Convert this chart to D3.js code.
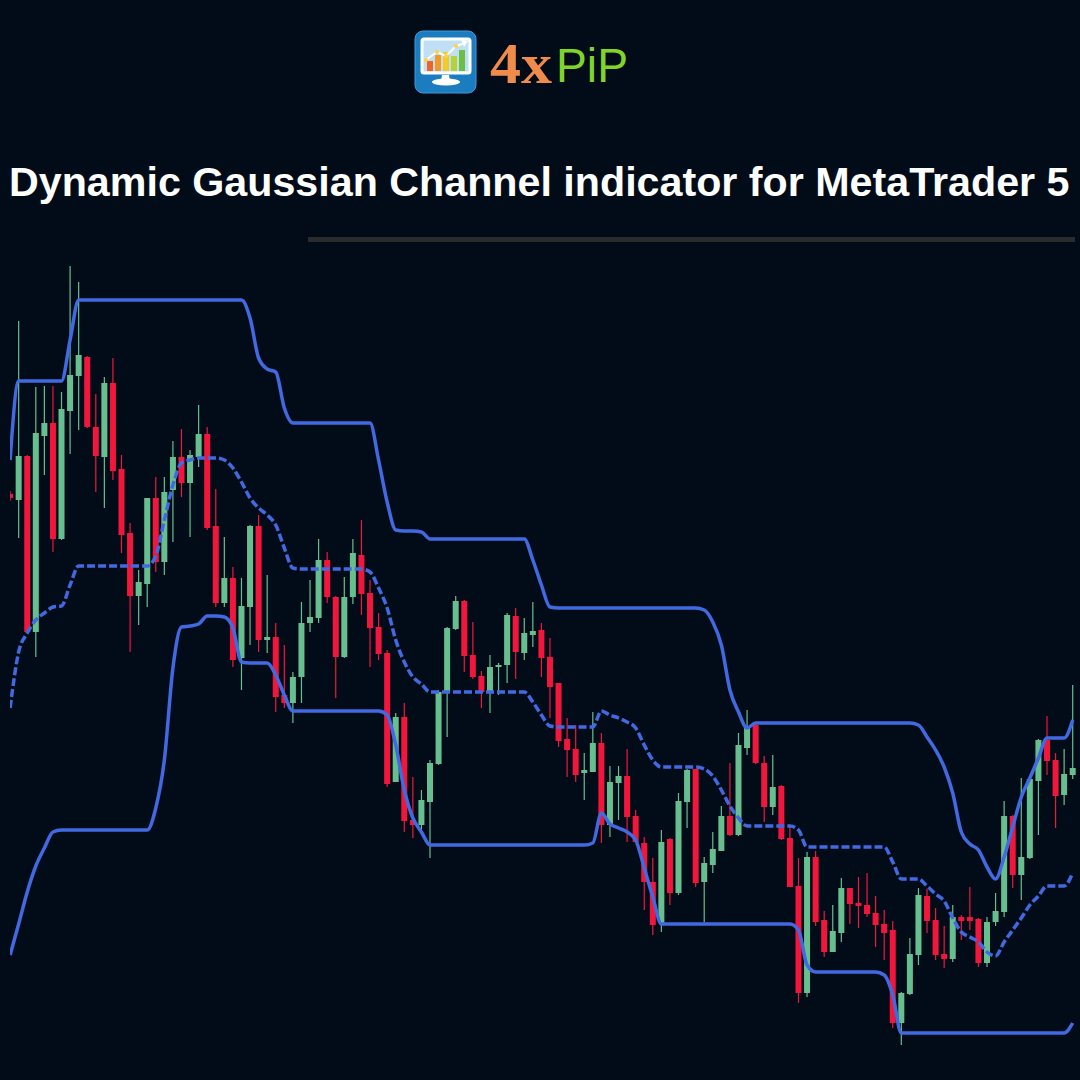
<!DOCTYPE html>
<html>
<head>
<meta charset="utf-8">
<script src="https://cdn.jsdelivr.net/npm/d3@7/dist/d3.min.js"></script>
<style>
  html, body { margin: 0; padding: 0; background: #020c19; }
  svg { display: block; }
</style>
</head>
<body>
<svg id="chart"></svg>
<script>
// candles, oldest first (the first one is cut by the left edge)
var openVals = [586,580,624,448,644,657,541,669,704,723,
  653,623,697,611,547,484,496,582,518,590,
  623,597,623,646,554,477,502,422,473,554,
  440,443,385,377,403,457,462,520,483,423,
  483,525,487,453,427,298,363,260,255,278,
  316,388,451,479,425,404,388,413,415,464,
  427,445,450,423,397,341,331,307,308,337,
  255,297,304,264,237,198,157,241,187,278,
  311,198,215,229,264,245,332,355,317,273,
  294,242,194,87,223,160,128,147,192,177,
  175,167,156,150,57,86,125,184,160,126,
  121,163,163,161,117,158,168,264,205,222,
  299,340,320,285,305];
var highVals = [589,759,625,693,694,694,688,814,798,724,
  686,703,722,625,557,510,582,603,603,639,
  651,630,675,653,591,543,513,502,555,565,
  505,457,435,408,478,500,541,528,484,503,
  541,560,500,467,430,367,377,303,290,320,
  390,453,484,480,458,409,425,417,467,472,
  462,478,457,442,397,362,355,327,368,347,
  314,314,331,270,243,222,250,242,287,311,
  311,223,248,274,317,347,370,356,324,325,
  295,253,222,228,229,169,175,202,192,203,
  207,184,170,159,88,142,192,191,172,154,
  175,165,193,162,163,187,279,265,302,303,
  341,364,327,331,395];
var lowVals = [579,542,447,423,605,528,540,626,650,652,
  588,572,600,527,428,455,473,508,505,538,
  583,543,613,550,473,473,413,390,435,428,
  427,368,372,357,377,448,457,477,382,422,
  476,465,413,420,293,298,248,242,248,222,
  315,343,450,408,401,372,367,385,397,401,
  420,433,403,362,333,303,298,280,308,237,
  243,260,238,237,170,145,148,175,185,252,
  193,158,207,229,244,244,325,316,258,265,
  240,193,77,83,154,123,128,138,156,152,
  163,133,120,52,35,85,115,147,120,112,
  118,140,150,113,113,154,163,192,180,221,
  245,305,252,275,301];
var closeVals = [582,624,448,647,657,541,671,705,725,653,
  624,697,609,545,484,498,582,518,588,623,
  597,625,646,552,477,502,420,474,554,440,
  443,383,377,403,457,463,520,483,423,483,
  527,486,452,426,296,363,259,255,280,317,
  388,452,479,424,403,388,413,415,465,428,
  447,449,422,393,339,330,305,310,337,255,
  298,304,263,238,198,155,238,187,279,310,
  197,217,231,264,245,335,352,317,273,293,
  241,193,87,223,158,128,149,192,176,174,
  166,155,147,57,87,126,185,159,125,121,
  163,159,159,117,158,169,264,205,223,301,
  340,319,284,306,312];

// gaussian channel: upper, middle (dashed), lower
var upperBand = [620,699,699,699,699,699,699,740,780,780,
  780,780,780,780,780,780,780,780,780,780,
  780,780,780,780,780,780,780,780,762,722,
  711,708,672,657,657,657,657,657,657,657,
  657,657,657,620,578,550,549,549,548,541,
  541,541,541,541,541,541,541,541,541,541,
  541,520,495,473,472,472,472,472,472,472,
  472,472,472,472,472,472,472,472,472,472,
  472,470,458,435,390,368,352,357,357,357,
  357,357,357,357,357,357,357,357,357,357,
  357,357,357,357,357,357,355,343,330,313,
  287,248,236,230,213,201,223,253,283,302,
  322,342,342,342,360];
var midBand = [372,428,447,460,467,473,474,495,514,514,
  514,514,514,514,514,514,514,524,560,595,
  617,620,622,622,622,620,612,598,582,572,
  565,555,532,512,511,511,511,511,511,511,
  511,511,508,492,472,440,418,403,396,388,
  388,388,388,388,388,388,388,388,388,388,
  388,378,365,354,353,353,353,353,353,369,
  365,362,358,352,335,320,313,313,313,313,
  313,311,304,290,274,262,254,254,254,254,
  254,254,250,233,233,233,233,233,233,233,
  233,233,233,218,201,201,201,194,186,179,
  162,148,143,138,128,124,138,150,162,175,
  184,194,194,194,207];
var lowerBand = [125,156,188,214,232,248,250,250,250,250,
  250,250,250,250,250,250,250,272,320,412,
  453,454,456,464,464,463,452,418,417,417,
  417,405,385,369,369,369,369,369,369,369,
  369,369,369,369,365,335,290,262,248,235,
  235,235,235,235,235,235,235,235,235,235,
  235,235,235,235,235,235,235,235,237,267,
  256,252,248,240,212,183,156,156,156,156,
  156,156,156,156,156,156,156,156,156,156,
  156,156,150,115,108,108,108,108,108,108,
  108,108,105,85,47,47,47,47,47,47,
  47,47,47,47,47,47,47,47,47,47,
  47,47,47,47,57];

var titleText = 'Dynamic Gaussian Channel indicator for MetaTrader 5';

var WIDTH = 1080, HEIGHT = 1080;
var upColor = '#67bf90', downColor = '#f2163c', bandColor = '#4169e1';

var svg = d3.select('#chart')
  .attr('width', WIDTH)
  .attr('height', HEIGHT);

svg.append('rect')
  .attr('width', WIDTH).attr('height', HEIGHT)
  .attr('fill', '#020c19');

// ---- logo ----
var logo = svg.append('g').attr('transform', 'translate(415,31)');
logo.append('rect')
  .attr('width', 61).attr('height', 62).attr('rx', 8)
  .attr('fill', '#1c7cc0').attr('stroke', '#3d9ad8').attr('stroke-width', 1);
logo.append('rect')
  .attr('x', 7).attr('y', 8).attr('width', 48).attr('height', 34).attr('rx', 2)
  .attr('fill', '#bfe0f4').attr('stroke', '#ffffff').attr('stroke-width', 3);
var barCols = ['#f0642a', '#f39a26', '#f5c928', '#b5d334', '#6cbf45'];
var barTops = [30, 24, 21, 25, 19];
barCols.forEach(function(c, i) {
  logo.append('rect')
    .attr('x', 12 + i * 8).attr('y', barTops[i])
    .attr('width', 6).attr('height', 40 - barTops[i])
    .attr('fill', c);
});
logo.append('path')
  .attr('d', 'M11,29 L22,21 L31,25 L41,15 L50,12')
  .attr('fill', 'none').attr('stroke', '#ffffff').attr('stroke-width', 2);
logo.append('path')
  .attr('d', 'M46,9 L53,10 L49,16 Z').attr('fill', '#ffffff');
[[11, 29], [22, 21], [31, 25], [41, 15]].forEach(function(p) {
  logo.append('circle').attr('cx', p[0]).attr('cy', p[1]).attr('r', 2)
    .attr('fill', '#ffd23c');
});
logo.append('path')
  .attr('d', 'M27,44 L34,44 L35,50 L26,50 Z').attr('fill', '#ffffff');
logo.append('ellipse')
  .attr('cx', 31).attr('cy', 51).attr('rx', 14).attr('ry', 3.5)
  .attr('fill', '#ffffff');

svg.append('text')
  .attr('x', 490).attr('y', 83)
  .attr('font-family', '"Liberation Serif", serif')
  .attr('font-weight', 'bold').attr('font-size', 56)
  .attr('textLength', 62).attr('lengthAdjust', 'spacingAndGlyphs')
  .attr('fill', '#ef8b4b')
  .text('4x');
svg.append('text')
  .attr('x', 556).attr('y', 82)
  .attr('font-family', '"Liberation Sans", Arial, sans-serif')
  .attr('font-size', 49)
  .attr('textLength', 72).attr('lengthAdjust', 'spacingAndGlyphs')
  .attr('fill', '#80d42a')
  .text('PiP');

// ---- title ----
var title = svg.append('text')
  .attr('x', 9).attr('y', 196)
  .attr('font-family', '"Liberation Sans", Arial, sans-serif')
  .attr('font-weight', 'bold').attr('font-size', 38)
  .attr('fill', '#ffffff')
  .text(titleText);
var tl = title.node().getComputedTextLength();
title.attr('font-size', 38 * 1061 / tl);

svg.append('rect')
  .attr('x', 308).attr('y', 237).attr('width', 767).attr('height', 5)
  .attr('fill', '#2b2b2d');

// ---- chart ----
var idx = d3.range(-1, openVals.length - 1);
var candles = idx.map(function(k, i) {
  return { k: k, o: openVals[i], h: highVals[i], l: lowVals[i], c: closeVals[i] };
});

var x = d3.scaleLinear().domain([-1, 123]).range([10.1, 1072.7]);
var y = d3.scaleLinear().domain([20, 820]).range([1060, 260]);

svg.append('clipPath').attr('id', 'plotclip')
  .append('rect').attr('x', 10).attr('y', 250).attr('width', 1066).attr('height', 810);

var plot = svg.append('g').attr('clip-path', 'url(#plotclip)');

var cg = plot.selectAll('.candle').data(candles).enter().append('g')
  .attr('class', 'candle');

cg.append('line')
  .attr('x1', function(d) { return x(d.k); })
  .attr('x2', function(d) { return x(d.k); })
  .attr('y1', function(d) { return y(d.h); })
  .attr('y2', function(d) { return y(d.l); })
  .attr('stroke', function(d) { return d.c >= d.o ? upColor : downColor; })
  .attr('stroke-width', 1.2);

cg.append('rect')
  .attr('x', function(d) { return x(d.k) - 3; })
  .attr('width', 6)
  .attr('y', function(d) { return y(Math.max(d.o, d.c)); })
  .attr('height', function(d) { return Math.max(1.5, Math.abs(y(d.o) - y(d.c))); })
  .attr('fill', function(d) { return d.c >= d.o ? upColor : downColor; });

var line = d3.line()
  .x(function(d, i) { return x(idx[i]); })
  .y(function(d) { return y(d); })
  .curve(d3.curveMonotoneX);

plot.append('path').datum(upperBand)
  .attr('d', line).attr('fill', 'none')
  .attr('stroke', bandColor).attr('stroke-width', 3.5);
plot.append('path').datum(lowerBand)
  .attr('d', line).attr('fill', 'none')
  .attr('stroke', bandColor).attr('stroke-width', 3.5);
plot.append('path').datum(midBand)
  .attr('d', line).attr('fill', 'none')
  .attr('stroke', bandColor).attr('stroke-width', 3.5)
  .attr('stroke-dasharray', '8,3');
</script>
</body>
</html>
